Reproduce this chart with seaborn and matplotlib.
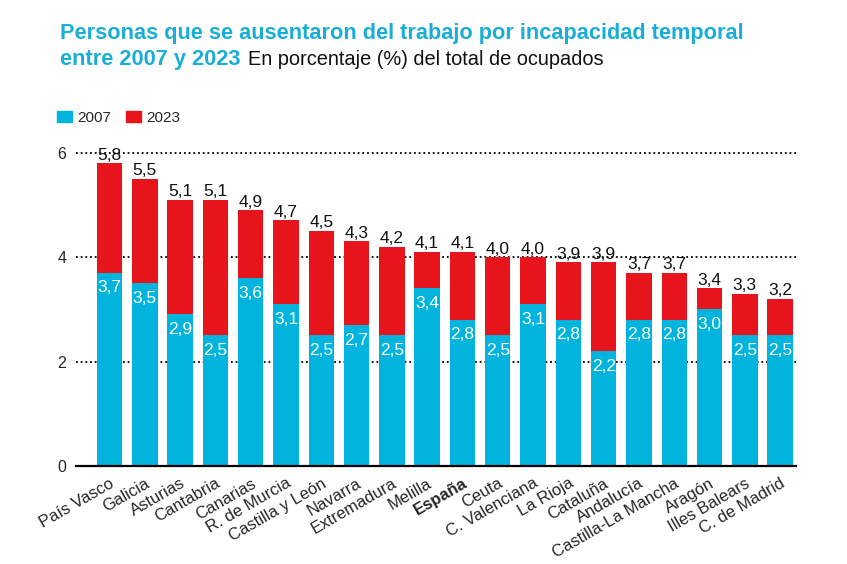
import matplotlib
matplotlib.use("Agg")
import matplotlib.pyplot as plt
import matplotlib.patches as mpatches
import seaborn as sns
import pandas as pd

regions = ["País Vasco", "Galicia", "Asturias", "Cantabria", "Canarias",
           "R. de Murcia", "Castilla y León", "Navarra", "Extremadura", "Melilla",
           "España", "Ceuta", "C. Valenciana", "La Rioja", "Cataluña",
           "Andalucía", "Castilla-La Mancha", "Aragón", "Illes Balears", "C. de Madrid"]
v2007 = [3.7, 3.5, 2.9, 2.5, 3.6, 3.1, 2.5, 2.7, 2.5, 3.4,
         2.8, 2.5, 3.1, 2.8, 2.2, 2.8, 2.8, 3.0, 2.5, 2.5]
v2023 = [5.8, 5.5, 5.1, 5.1, 4.9, 4.7, 4.5, 4.3, 4.2, 4.1,
         4.1, 4.0, 4.0, 3.9, 3.9, 3.7, 3.7, 3.4, 3.3, 3.2]
yticks = [0, 2, 4, 6]

BLUE = "#00B4DE"
RED = "#E8141B"
TITLE = "#1AADD6"

sns.set_theme(style="white")
plt.rcParams["font.family"] = ["Liberation Sans", "DejaVu Sans"]

df = pd.DataFrame({"region": regions, "v2007": v2007, "v2023": v2023})

W, H = 847, 564
fig = plt.figure(figsize=(W / 100, H / 100), dpi=100)
ax = fig.add_axes([76 / W, 1 - 466 / H, 720 / W, (466 - 144.7) / H])

sns.barplot(data=df, x="region", y="v2023", color=RED, saturation=1,
            width=0.72, linewidth=0, ax=ax, zorder=2)
sns.barplot(data=df, x="region", y="v2007", color=BLUE, saturation=1,
            width=0.72, linewidth=0, ax=ax, zorder=3)

ax.set_xlim(-0.95, 19.45)
ax.set_ylim(0, 6.15)
ax.set_yticks(yticks)
ax.set_yticklabels([str(t) for t in yticks], fontsize=11.5)
ax.set_xlabel("")
ax.set_ylabel("")

for s in ["top", "right", "left"]:
    ax.spines[s].set_visible(False)
ax.spines["bottom"].set_color("black")
ax.spines["bottom"].set_linewidth(1.6)
ax.spines["bottom"].set_zorder(5)

for t in yticks[1:]:
    ax.axhline(t, color="black", linewidth=1.3, linestyle=(0, (1, 1.6)), zorder=1)

ax.tick_params(axis="both", length=0)
ax.tick_params(axis="y", pad=7)
ax.tick_params(axis="x", pad=7)
ax.set_xticks(range(len(regions)))
ax.set_xticklabels(regions, rotation=30, ha="right", va="top",
                   rotation_mode="anchor", fontsize=12)
for lab in ax.get_xticklabels():
    if lab.get_text() == "España":
        lab.set_fontweight("bold")

fmt = lambda v: f"{v:.1f}".replace(".", ",")
for i, (a, b) in enumerate(zip(v2007, v2023)):
    ax.annotate(fmt(b), (i, b), xytext=(0, 2.5), textcoords="offset points",
                ha="center", va="baseline", fontsize=12.5, color="#111111",
                zorder=6, annotation_clip=False)
    ax.annotate(fmt(a), (i, a), xytext=(0, -5.5), textcoords="offset points",
                ha="center", va="top", fontsize=12.5, color="white", zorder=6)

# Title
fig.text(60 / W, 1 - 39.5 / H,
         "Personas que se ausentaron del trabajo por incapacidad temporal",
         color=TITLE, fontsize=15.7, fontweight="bold", va="baseline", ha="left")
t2 = fig.text(60 / W, 1 - 65 / H, "entre 2007 y 2023", color=TITLE,
              fontsize=15.7, fontweight="bold", va="baseline", ha="left")
fig.canvas.draw()
bb = t2.get_window_extent(fig.canvas.get_renderer())
fig.text((bb.x1 + 7) / W, 1 - 65 / H, "En porcentaje (%) del total de ocupados",
         color="#111111", fontsize=14.4, va="baseline", ha="left")

# Legend
handles = [mpatches.Patch(color=BLUE, label="2007"),
           mpatches.Patch(color=RED, label="2023")]
fig.legend(handles=handles, loc="center left", bbox_to_anchor=(57 / W, 1 - 117.5 / H),
           ncol=2, frameon=False, fontsize=11, handlelength=0.95, handleheight=0.7,
           handletextpad=0.4, columnspacing=0.95, borderaxespad=0, borderpad=0)

fig.savefig("out.png", dpi=100, facecolor="white")
